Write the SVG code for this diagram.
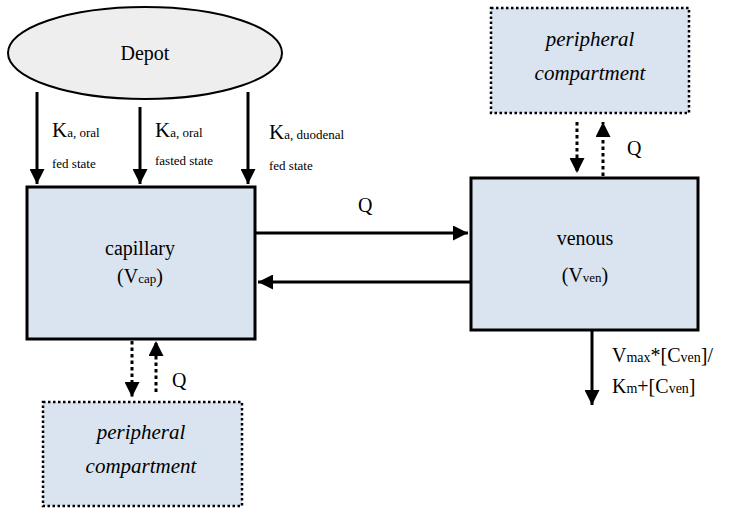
<svg xmlns="http://www.w3.org/2000/svg" width="741" height="508" viewBox="0 0 741 508" font-family="'Liberation Serif', Tinos, 'Times New Roman', 'DejaVu Serif', serif">
<style>
text{font-family:'Liberation Serif', Tinos, 'Times New Roman', 'DejaVu Serif', serif;fill:#000}
.box{fill:#dae3f0;stroke:#000;stroke-width:3}
.per{fill:#dae3f0;stroke:#000;stroke-width:2.5;stroke-dasharray:2.5 2.5}
.ln{stroke:#000;stroke-width:3;fill:none}
.dl{stroke:#000;stroke-width:3;fill:none;stroke-dasharray:3.5 3}
.t{font-size:20px;text-anchor:middle}
.q{font-size:20px}
.it{font-size:21px;font-style:italic;text-anchor:middle}
.k{font-size:21px}
.s{font-size:13px}
</style>
<defs>
<marker id="ah" markerWidth="5" markerHeight="5" refX="5" refY="2.5" orient="auto" markerUnits="strokeWidth">
<path d="M0,0 L5,2.5 L0,5 Z" fill="#000"/>
</marker>
</defs>
<g id="depot">
<ellipse cx="145" cy="53" rx="137" ry="46" fill="#eeeeee" stroke="#000" stroke-width="2"/>
<text class="t" x="145" y="60">Depot</text>
</g>
<g id="capillary">
<rect class="box" x="27" y="187" width="228" height="152"/>
<text class="t" x="140" y="255">capillary</text>
<text class="t" x="140" y="283">(V<tspan font-size="13">cap</tspan>)</text>
</g>
<g id="venous">
<rect class="box" x="471" y="178" width="227" height="152"/>
<text class="t" x="585" y="245">venous</text>
<text class="t" x="585" y="282">(V<tspan font-size="13">ven</tspan>)</text>
</g>
<g id="peripheral-top">
<rect class="per" x="491" y="8" width="198" height="105"/>
<text class="it" x="590" y="46">peripheral</text>
<text class="it" x="590" y="80">compartment</text>
</g>
<g id="peripheral-bottom">
<rect class="per" x="43" y="402" width="199" height="104"/>
<text class="it" x="141" y="439">peripheral</text>
<text class="it" x="141" y="473">compartment</text>
</g>
<g id="connectors">
<line class="ln" x1="37" y1="92" x2="37" y2="184" marker-end="url(#ah)"/>
<line class="ln" x1="140" y1="107" x2="140" y2="184" marker-end="url(#ah)"/>
<line class="ln" x1="248" y1="92" x2="248" y2="184" marker-end="url(#ah)"/>
<line class="ln" x1="255" y1="233" x2="468" y2="233" marker-end="url(#ah)"/>
<line class="ln" x1="470" y1="282" x2="258" y2="282" marker-end="url(#ah)"/>
<line class="ln" x1="592" y1="330" x2="592" y2="405" marker-end="url(#ah)"/>
<line class="dl" x1="577" y1="122" x2="577" y2="173" marker-end="url(#ah)"/>
<line class="dl" x1="603" y1="176" x2="603" y2="122" marker-end="url(#ah)"/>
<line class="dl" x1="132" y1="341" x2="132" y2="397" marker-end="url(#ah)"/>
<line class="dl" x1="156" y1="392" x2="156" y2="341" marker-end="url(#ah)"/>
</g>
<g id="labels">
<text class="k" x="52" y="137">K<tspan class="s">a, oral</tspan></text>
<text class="s" x="52" y="168">fed state</text>
<text class="k" x="155" y="137">K<tspan class="s">a, oral</tspan></text>
<text class="s" x="155" y="165">fasted state</text>
<text class="k" x="269" y="139">K<tspan class="s">a, duodenal</tspan></text>
<text class="s" x="269" y="170">fed state</text>
<text class="q" x="358" y="212">Q</text>
<text class="q" x="627" y="155">Q</text>
<text class="q" x="172" y="387">Q</text>
<text x="612" y="362" font-size="20">V<tspan font-size="14">max</tspan>*[C<tspan font-size="14">ven</tspan>]/</text>
<text x="612" y="393" font-size="20">K<tspan font-size="14">m</tspan>+[C<tspan font-size="14">ven</tspan>]</text>
</g>
</svg>
